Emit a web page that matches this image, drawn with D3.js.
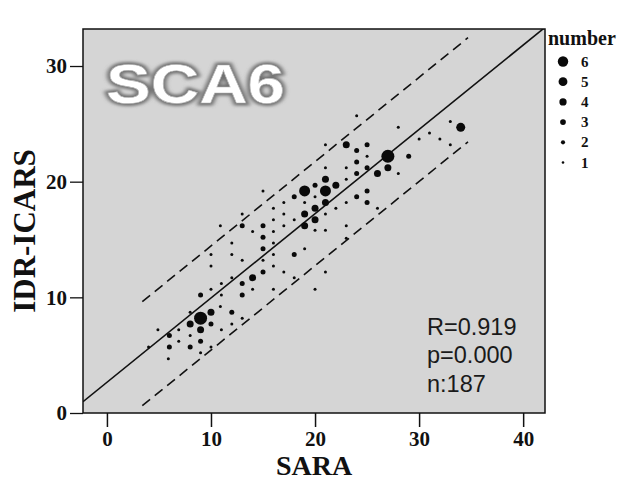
<!DOCTYPE html>
<html>
<head>
<meta charset="utf-8">
<script src="https://cdn.jsdelivr.net/npm/d3@7"></script>
<style>
  html, body { margin: 0; padding: 0; background: #ffffff; }
  svg { display: block; }
</style>
</head>
<body>
<svg id="chart" width="624" height="485"></svg>
<script>
// ---- data ----
const sara = [4.0,4.9,5.9,6.0,6.0,6.9,6.9,8.0,8.0,8.0,8.0,9.0,9.0,9.0,9.0,9.0,
  10.0,10.0,10.0,10.0,10.0,10.0,11.0,11.0,11.0,10.9,10.9,12.0,12.0,12.0,12.0,12.0,
  13.0,13.0,13.0,13.0,13.0,13.0,14.0,14.0,14.0,15.0,15.0,15.0,15.0,15.0,15.0,
  16.0,16.0,16.0,16.0,16.0,16.0,16.0,17.0,17.0,17.0,17.0,18.0,18.0,18.0,18.0,
  19.0,19.0,19.0,19.0,19.0,20.0,20.0,20.0,20.0,20.0,20.0,21.0,21.0,21.0,21.0,21.0,21.0,21.0,21.0,
  22.0,22.0,23.0,23.0,23.0,23.0,23.0,23.0,24.0,24.0,24.0,24.0,24.0,25.0,25.0,25.0,25.0,25.0,
  26.0,26.0,27.0,27.0,28.0,28.0,29.0,30.0,31.0,32.0,33.0,33.0,34.0];
const idr = [5.7,7.2,4.7,5.7,6.7,7.2,6.2,8.7,7.7,6.7,5.7,8.2,7.2,6.2,5.2,10.2,
  8.7,7.7,5.7,10.7,12.7,13.7,11.2,10.2,7.2,9.2,16.2,14.7,13.7,11.7,8.7,7.7,
  13.2,11.2,10.2,8.2,16.2,17.2,11.7,10.7,15.7,12.2,13.2,14.2,15.2,16.2,19.2,
  12.7,13.7,14.7,15.7,16.7,17.7,10.7,12.2,16.2,17.2,18.2,13.7,11.7,16.7,18.7,
  14.2,16.2,17.2,18.2,19.2,10.7,15.8,16.7,17.7,18.7,19.7,12.2,15.8,17.2,18.2,19.2,20.2,21.2,23.2,
  17.7,19.7,15.1,16.2,18.2,20.2,21.2,23.2,25.7,22.7,21.7,20.7,18.7,23.2,22.2,21.2,19.2,18.2,
  20.7,17.7,22.2,21.2,24.7,20.7,22.2,23.7,24.2,23.7,25.2,23.2,24.7];
const count = [1,1,1,2,2,1,1,1,3,1,2,6,3,2,1,2,
  3,2,1,1,1,1,1,1,1,1,1,1,1,1,2,1,
  1,2,2,1,2,1,3,1,1,2,1,2,2,2,1,
  1,1,1,1,1,1,1,1,1,1,1,2,1,1,2,
  1,3,3,1,5,1,1,3,3,1,2,1,1,1,3,5,3,1,1,
  1,3,1,1,1,1,1,3,1,2,2,2,2,2,1,2,2,2,
  3,1,6,3,1,1,2,1,1,1,1,1,4];
const xTicks = [0, 10, 20, 30, 40];
const yTicks = [0, 10, 20, 30];
const legendCounts = [6, 5, 4, 3, 2, 1];
const fitIntercept = 2.65, fitSlope = 0.729, bandHalfWidth = 4.5;
const bandRange = [3.4, 34.7];
const stats = ["R=0.919", "p=0.000", "n:187"];

// ---- layout ----
const svg = d3.select("#chart");
const L = 83, R = 545, T = 29, B = 413;
const x = d3.scaleLinear().domain([-2.3, 42.1]).range([L, R]);
const y = d3.scaleLinear().domain([0, 33.2]).range([B, T]);
const r = d3.scaleLinear().domain([1, 6]).range([1.5, 6.5]);
const rLegend = d3.scaleLinear().domain([1, 6]).range([1.3, 5.2]);
const serif = "'Liberation Serif','Times New Roman',serif";
const sans = "'Liberation Sans',Arial,sans-serif";

const defs = svg.append("defs");
defs.append("clipPath").attr("id", "clip")
  .append("rect").attr("x", L).attr("y", T).attr("width", R - L).attr("height", B - T);
const f = defs.append("filter").attr("id", "halo").attr("x", "-20%").attr("y", "-20%")
  .attr("width", "140%").attr("height", "140%");
f.append("feGaussianBlur").attr("stdDeviation", 1.6);

// plot background
svg.append("rect").attr("x", L).attr("y", T).attr("width", R - L).attr("height", B - T)
  .attr("fill", "#d5d5d5");

// SCA6 label
const title = svg.append("g").attr("transform", "translate(106,103) scale(1.22,1)");
title.append("text").text("SCA6").attr("x", 0).attr("y", 0)
  .attr("font-family", sans).attr("font-weight", "bold").attr("font-size", 55)
  .attr("fill", "none").attr("stroke", "#6f6f6f").attr("stroke-width", 5)
  .attr("filter", "url(#halo)");
title.append("text").text("SCA6").attr("x", 0).attr("y", 0)
  .attr("font-family", sans).attr("font-weight", "bold").attr("font-size", 55)
  .attr("fill", "#ffffff").attr("stroke", "#b5b5b5").attr("stroke-width", 0.6);

const plot = svg.append("g").attr("clip-path", "url(#clip)");

// regression line
const xd = x.domain();
plot.append("line")
  .attr("x1", x(xd[0])).attr("y1", y(fitIntercept + fitSlope * xd[0]))
  .attr("x2", x(xd[1])).attr("y2", y(fitIntercept + fitSlope * xd[1]))
  .attr("stroke", "#111").attr("stroke-width", 1.6);

// prediction band lines
[-1, 1].forEach(s => {
  plot.append("line")
    .attr("x1", x(bandRange[0])).attr("y1", y(fitIntercept + fitSlope * bandRange[0] + s * bandHalfWidth))
    .attr("x2", x(bandRange[1])).attr("y2", y(fitIntercept + fitSlope * bandRange[1] + s * bandHalfWidth))
    .attr("stroke", "#111").attr("stroke-width", 1.6).attr("stroke-dasharray", "10,6");
});

// points
const pts = sara.map((s, i) => ({ s, v: idr[i], c: count[i] }));
plot.selectAll("circle.pt").data(pts).enter().append("circle")
  .attr("class", "pt")
  .attr("cx", d => x(d.s)).attr("cy", d => y(d.v)).attr("r", d => r(d.c))
  .attr("fill", "#0a0a0a");

// frame
svg.append("rect").attr("x", L).attr("y", T).attr("width", R - L).attr("height", B - T)
  .attr("fill", "none").attr("stroke", "#111").attr("stroke-width", 1.5);

// axes
const xAxis = d3.axisBottom(x).tickValues(xTicks).tickSize(14).tickPadding(4).tickSizeOuter(0);
const gx = svg.append("g").attr("transform", `translate(0,${B})`).call(xAxis);
gx.select(".domain").remove();
gx.selectAll("line").attr("stroke", "#111").attr("stroke-width", 1.5);
gx.selectAll("text").attr("font-family", serif).attr("font-weight", "bold")
  .attr("font-size", 21).attr("fill", "#111");

const yAxis = d3.axisLeft(y).tickValues(yTicks).tickSize(13).tickPadding(3).tickSizeOuter(0);
const gy = svg.append("g").attr("transform", `translate(${L},0)`).call(yAxis);
gy.select(".domain").remove();
gy.selectAll("line").attr("stroke", "#111").attr("stroke-width", 1.3);
gy.selectAll("text").attr("font-family", serif).attr("font-weight", "bold")
  .attr("font-size", 21).attr("fill", "#111");

// axis titles
svg.append("text").text("SARA").attr("x", 314).attr("y", 475).attr("text-anchor", "middle")
  .attr("font-family", serif).attr("font-weight", "bold").attr("font-size", 28).attr("fill", "#111");
svg.append("text").text("IDR-ICARS").attr("transform", "translate(35,231) rotate(-90)")
  .attr("text-anchor", "middle")
  .attr("font-family", serif).attr("font-weight", "bold").attr("font-size", 31).attr("fill", "#111");

// statistics
svg.append("g").selectAll("text").data(stats).enter().append("text")
  .text(d => d).attr("x", 427).attr("y", (d, i) => 335 + i * 28.3)
  .attr("font-family", sans).attr("font-size", 23.5).attr("fill", "#1a1a1a");

// legend
svg.append("text").text("number").attr("x", 548).attr("y", 45)
  .attr("font-family", serif).attr("font-weight", "bold").attr("font-size", 20).attr("fill", "#111");
const lg = svg.append("g").selectAll("g").data(legendCounts).enter().append("g")
  .attr("transform", (d, i) => `translate(563,${61.5 + i * 20.2})`);
lg.append("circle").attr("r", d => rLegend(d)).attr("fill", "#0a0a0a");
lg.append("text").text(d => d).attr("x", 18).attr("y", 5)
  .attr("font-family", serif).attr("font-weight", "bold").attr("font-size", 15).attr("fill", "#111");
</script>
</body>
</html>
